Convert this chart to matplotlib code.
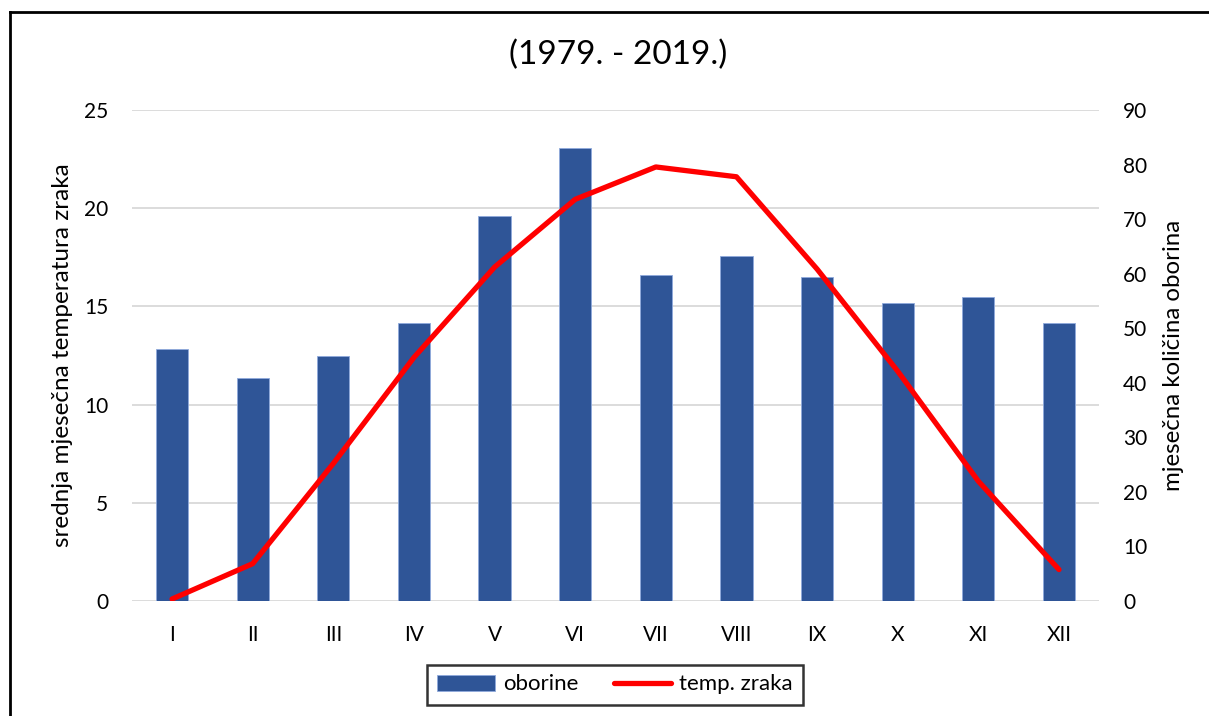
import matplotlib
matplotlib.use("Agg")
import matplotlib.pyplot as plt
from matplotlib.lines import Line2D
import numpy as np

months = ["I", "II", "III", "IV", "V", "VI", "VII", "VIII", "IX", "X", "XI", "XII"]
oborine = [46.2, 40.9, 45.0, 50.9, 70.5, 83.1, 59.7, 63.2, 59.3, 54.7, 55.8, 50.9]
temp = [0.1, 1.9, 7.0, 12.4, 17.0, 20.45, 22.1, 21.6, 16.9, 11.7, 6.1, 1.6]

plt.rcParams['font.family'] = ['Lato', 'DejaVu Sans']

W, H = 1209, 716
fig = plt.figure(figsize=(W / 100, H / 100), dpi=100)
ax = fig.add_axes([131.7 / W, (H - 601) / H, (1099.3 - 131.7) / W, (601 - 110) / H])
ax2 = ax.twinx()

x = np.arange(len(months))
# bars on the right axis, line on the left axis
ax2.bar(x, oborine, width=0.4, color="#2f5597", edgecolor="#8faadc", linewidth=0.6,
        label="oborine", zorder=2)
ax.plot(x, temp, color="#ff0000", linewidth=3.8, solid_capstyle="round",
        label="temp. zraka", zorder=5)

ax.set_zorder(ax2.get_zorder() + 1)
ax.patch.set_visible(False)

ax.set_xlim(-0.5, len(months) - 0.5)
ax.set_ylim(0, 25)
ax2.set_ylim(0, 90)
ax.set_yticks(range(0, 26, 5))
ax2.set_yticks(range(0, 91, 10))
ax.set_xticks(x)
ax.set_xticklabels(months)

# gridlines drawn on the back axis so bars sit on top
for v in range(0, 26, 5):
    ax2.axhline(v * 90 / 25, color="#d9d9d9", linewidth=1.3, zorder=0)

for a in (ax, ax2):
    for s in a.spines.values():
        s.set_visible(False)
    a.tick_params(length=0, labelsize=15, colors="#000000")
ax.tick_params(axis="y", pad=17)
ax2.tick_params(axis="y", pad=17)
ax.tick_params(axis="x", pad=17)

ax.set_ylabel("srednja mjesečna temperatura zraka", fontsize=17.5)
ax2.set_ylabel("mjesečna količina oborina", fontsize=17.3)
ax.yaxis.set_label_coords((63 - 131.7) / (1099.3 - 131.7), 0.5)
ax2.yaxis.set_label_coords((1174 - 131.7) / (1099.3 - 131.7), 0.5)
ax.yaxis.label.set_va("center")
ax2.yaxis.label.set_va("center")

fig.text(618.5 / W, (H - 55) / H, "(1979. - 2019.)", fontsize=24, ha="center", va="center")

h1, l1 = ax2.get_legend_handles_labels()
h2, l2 = ax.get_legend_handles_labels()
leg = fig.legend(h1 + h2, l1 + l2, loc="center", bbox_to_anchor=(615 / W, (H - 684.5) / H),
                 ncol=2, frameon=True, fancybox=False, fontsize=16, handlelength=2.6,
                 handletextpad=0.35, columnspacing=1.6, borderpad=0.45, borderaxespad=0,
                 handleheight=0.7)
leg.get_frame().set_edgecolor("black")
leg.get_frame().set_linewidth(1.8)

# outer chart frame
fig.add_artist(Line2D([10 / W, 1], [1 - 12 / H, 1 - 12 / H], color="black", linewidth=2))
fig.add_artist(Line2D([10 / W, 10 / W], [0, 1 - 12 / H], color="black", linewidth=2))

fig.savefig("out.png", dpi=100)
